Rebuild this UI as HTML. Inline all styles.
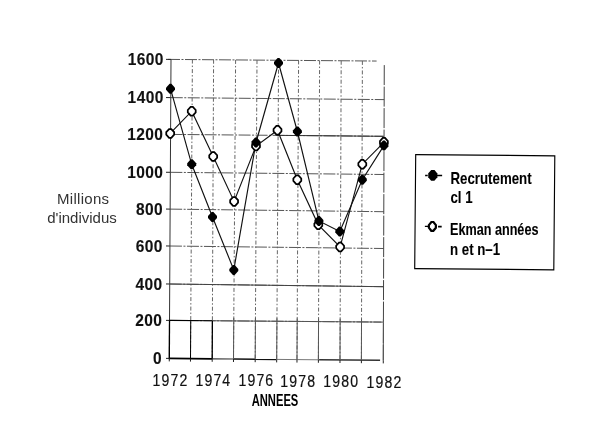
<!DOCTYPE html>
<html><head><meta charset="utf-8"><style>
html,body{margin:0;padding:0;background:#fff;width:600px;height:425px;overflow:hidden}
svg{display:block;filter:grayscale(1)}
.gr{stroke:#555;stroke-width:1;stroke-dasharray:12 1.5 2 1.5}
.gv{stroke:#666;stroke-width:1;stroke-dasharray:4 2 1.5 2}
text{font-family:"Liberation Sans",sans-serif}
.ax{font-size:16px;font-weight:normal;fill:#111;stroke:#111;stroke-width:0.2px;letter-spacing:1.3px}
.ay{font-weight:bold;stroke-width:0.1px;letter-spacing:0.4px}
.an{font-size:16px;font-weight:bold;fill:#000}
.ml{font-size:15px;fill:#333}
.lg{font-size:16px;font-weight:bold;fill:#000;stroke:#000;stroke-width:0.1px}
</style></head><body>
<svg width="600" height="425" viewBox="0 0 600 425">
<rect width="600" height="425" fill="#fff"/>
<line x1="169.30" y1="358.40" x2="212.10" y2="358.80" stroke="#000" stroke-width="1.8"/>
<line x1="212.10" y1="358.80" x2="233.50" y2="359.00" stroke="#333" stroke-width="1.2"/>
<line x1="233.50" y1="359.00" x2="276.30" y2="359.40" stroke="#111" stroke-width="1.6"/>
<line x1="276.30" y1="359.40" x2="319.10" y2="359.80" stroke="#777" stroke-width="1"/>
<line x1="319.10" y1="359.80" x2="380.09" y2="360.37" stroke="#333" stroke-width="1.5"/>
<line x1="166.00" y1="358.37" x2="169.30" y2="358.40" stroke="#222" stroke-width="1"/>
<line x1="169.52" y1="320.40" x2="383.42" y2="322.10" class="gr"/>
<line x1="166.00" y1="320.37" x2="169.52" y2="320.40" stroke="#222" stroke-width="1"/>
<line x1="169.72" y1="284.01" x2="383.54" y2="286.70" class="gr"/>
<line x1="166.00" y1="283.96" x2="169.72" y2="284.01" stroke="#222" stroke-width="1"/>
<line x1="169.94" y1="246.01" x2="383.67" y2="248.50" class="gr"/>
<line x1="166.00" y1="245.96" x2="169.94" y2="246.01" stroke="#222" stroke-width="1"/>
<line x1="170.15" y1="209.11" x2="383.79" y2="211.71" class="gr"/>
<line x1="166.00" y1="209.06" x2="170.15" y2="209.11" stroke="#222" stroke-width="1"/>
<line x1="170.36" y1="172.31" x2="383.92" y2="174.51" class="gr"/>
<line x1="166.00" y1="172.27" x2="170.36" y2="172.31" stroke="#222" stroke-width="1"/>
<line x1="170.57" y1="134.41" x2="384.04" y2="136.31" class="gr"/>
<line x1="166.00" y1="134.37" x2="170.57" y2="134.41" stroke="#222" stroke-width="1"/>
<line x1="170.78" y1="97.61" x2="384.17" y2="99.61" class="gr"/>
<line x1="166.00" y1="97.57" x2="170.78" y2="97.61" stroke="#222" stroke-width="1"/>
<line x1="168.00" y1="59.39" x2="376.60" y2="61.05" class="gr"/>
<line x1="166.00" y1="59.37" x2="171.00" y2="59.41" stroke="#222" stroke-width="1"/>
<line x1="171.00" y1="59.40" x2="169.29" y2="359.50" stroke="#333" stroke-width="1"/>
<line x1="169.30" y1="358.40" x2="169.28" y2="361.40" stroke="#222" stroke-width="1"/>
<line x1="192.40" y1="59.57" x2="190.50" y2="358.60" class="gv"/>
<line x1="190.50" y1="358.60" x2="190.48" y2="361.60" stroke="#222" stroke-width="1"/>
<line x1="213.60" y1="59.74" x2="212.20" y2="358.80" class="gv"/>
<line x1="212.20" y1="358.80" x2="212.18" y2="361.80" stroke="#222" stroke-width="1"/>
<line x1="235.60" y1="59.91" x2="233.50" y2="359.00" class="gv"/>
<line x1="233.50" y1="359.00" x2="233.47" y2="362.00" stroke="#222" stroke-width="1"/>
<line x1="257.00" y1="60.08" x2="255.20" y2="359.20" class="gv"/>
<line x1="255.20" y1="359.20" x2="255.18" y2="362.20" stroke="#222" stroke-width="1"/>
<line x1="278.59" y1="60.25" x2="276.69" y2="359.40" class="gv"/>
<line x1="276.69" y1="359.40" x2="276.67" y2="362.40" stroke="#222" stroke-width="1"/>
<line x1="298.59" y1="60.41" x2="296.99" y2="359.59" class="gv"/>
<line x1="296.99" y1="359.59" x2="296.98" y2="362.59" stroke="#222" stroke-width="1"/>
<line x1="319.60" y1="60.58" x2="318.39" y2="359.79" class="gv"/>
<line x1="318.39" y1="359.79" x2="318.38" y2="362.79" stroke="#222" stroke-width="1"/>
<line x1="341.19" y1="60.76" x2="339.99" y2="360.00" class="gv"/>
<line x1="339.99" y1="360.00" x2="339.98" y2="363.00" stroke="#222" stroke-width="1"/>
<line x1="362.39" y1="60.93" x2="361.39" y2="360.20" class="gv"/>
<line x1="361.39" y1="360.20" x2="361.38" y2="363.20" stroke="#222" stroke-width="1"/>
<line x1="384.28" y1="65.10" x2="383.29" y2="360.40" stroke="#444" stroke-width="1" stroke-dasharray="20 1.5"/>
<line x1="383.29" y1="360.40" x2="383.28" y2="363.40" stroke="#222" stroke-width="1"/>
<line x1="276.70" y1="135.35" x2="383.30" y2="136.30" stroke="#333" stroke-width="1"/>
<line x1="169.30" y1="284.00" x2="383.30" y2="286.70" stroke="#444" stroke-width="1"/>
<line x1="212.20" y1="320.74" x2="381.30" y2="322.08" stroke="#555" stroke-width="1"/>
<line x1="233.78" y1="317.91" x2="233.50" y2="359.00" stroke="#555" stroke-width="1"/>
<line x1="255.44" y1="318.08" x2="255.20" y2="359.20" stroke="#555" stroke-width="1"/>
<line x1="276.96" y1="318.25" x2="276.69" y2="359.40" stroke="#555" stroke-width="1"/>
<line x1="297.21" y1="318.41" x2="296.99" y2="359.59" stroke="#555" stroke-width="1"/>
<line x1="318.56" y1="318.58" x2="318.39" y2="359.79" stroke="#555" stroke-width="1"/>
<line x1="340.16" y1="318.76" x2="339.99" y2="360.00" stroke="#555" stroke-width="1"/>
<line x1="361.53" y1="318.93" x2="361.39" y2="360.20" stroke="#555" stroke-width="1"/>
<line x1="383.43" y1="319.10" x2="383.29" y2="360.40" stroke="#555" stroke-width="1"/>
<line x1="169.30" y1="320.40" x2="212.20" y2="320.74" stroke="#000" stroke-width="1.1"/>
<line x1="169.52" y1="320.40" x2="169.30" y2="358.40" stroke="#000" stroke-width="1.3"/>
<line x1="190.74" y1="320.57" x2="190.50" y2="358.60" stroke="#000" stroke-width="1.0"/>
<line x1="212.38" y1="320.74" x2="212.20" y2="358.80" stroke="#000" stroke-width="1.3"/>
<polyline points="170.20,133.40 191.75,111.20 213.20,156.50 234.10,201.40 256.00,146.00 277.50,130.20 297.30,179.70 318.30,224.80 340.10,247.00 362.30,164.20 383.90,142.30" fill="none" stroke="#111" stroke-width="1.15"/>
<polyline points="170.50,88.70 191.70,164.30 212.50,217.00 233.80,269.90 256.00,142.50 278.50,63.00 297.40,131.50 318.90,220.90 339.80,231.50 362.30,179.80 383.90,145.60" fill="none" stroke="#111" stroke-width="1.15"/>
<polygon points="169.09,129.05 171.31,129.05 174.15,132.18 174.15,134.62 171.31,137.75 169.09,137.75 166.25,134.62 166.25,132.18" fill="#fff" stroke="#000" stroke-width="1.75"/>
<polygon points="190.64,106.85 192.86,106.85 195.70,109.98 195.70,112.42 192.86,115.55 190.64,115.55 187.80,112.42 187.80,109.98" fill="#fff" stroke="#000" stroke-width="1.75"/>
<polygon points="212.09,152.15 214.31,152.15 217.15,155.28 217.15,157.72 214.31,160.85 212.09,160.85 209.25,157.72 209.25,155.28" fill="#fff" stroke="#000" stroke-width="1.75"/>
<polygon points="232.99,197.05 235.21,197.05 238.05,200.18 238.05,202.62 235.21,205.75 232.99,205.75 230.15,202.62 230.15,200.18" fill="#fff" stroke="#000" stroke-width="1.75"/>
<polygon points="254.89,141.65 257.11,141.65 259.95,144.78 259.95,147.22 257.11,150.35 254.89,150.35 252.05,147.22 252.05,144.78" fill="#fff" stroke="#000" stroke-width="1.75"/>
<polygon points="276.39,125.85 278.61,125.85 281.45,128.98 281.45,131.42 278.61,134.55 276.39,134.55 273.55,131.42 273.55,128.98" fill="#fff" stroke="#000" stroke-width="1.75"/>
<polygon points="296.19,175.35 298.41,175.35 301.25,178.48 301.25,180.92 298.41,184.05 296.19,184.05 293.35,180.92 293.35,178.48" fill="#fff" stroke="#000" stroke-width="1.75"/>
<polygon points="317.19,220.45 319.41,220.45 322.25,223.58 322.25,226.02 319.41,229.15 317.19,229.15 314.35,226.02 314.35,223.58" fill="#fff" stroke="#000" stroke-width="1.75"/>
<polygon points="338.99,242.65 341.21,242.65 344.05,245.78 344.05,248.22 341.21,251.35 338.99,251.35 336.15,248.22 336.15,245.78" fill="#fff" stroke="#000" stroke-width="1.75"/>
<polygon points="361.19,159.85 363.41,159.85 366.25,162.98 366.25,165.42 363.41,168.55 361.19,168.55 358.35,165.42 358.35,162.98" fill="#fff" stroke="#000" stroke-width="1.75"/>
<polygon points="382.79,137.95 385.01,137.95 387.85,141.08 387.85,143.52 385.01,146.65 382.79,146.65 379.95,143.52 379.95,141.08" fill="#fff" stroke="#000" stroke-width="1.75"/>
<polygon points="169.60,83.70 171.40,83.70 175.00,87.70 175.00,89.70 171.40,93.70 169.60,93.70 166.00,89.70 166.00,87.70" fill="#000"/>
<polygon points="190.80,159.30 192.60,159.30 196.20,163.30 196.20,165.30 192.60,169.30 190.80,169.30 187.20,165.30 187.20,163.30" fill="#000"/>
<polygon points="211.60,212.00 213.40,212.00 217.00,216.00 217.00,218.00 213.40,222.00 211.60,222.00 208.00,218.00 208.00,216.00" fill="#000"/>
<polygon points="232.90,264.90 234.70,264.90 238.30,268.90 238.30,270.90 234.70,274.90 232.90,274.90 229.30,270.90 229.30,268.90" fill="#000"/>
<polygon points="255.10,137.50 256.90,137.50 260.50,141.50 260.50,143.50 256.90,147.50 255.10,147.50 251.50,143.50 251.50,141.50" fill="#000"/>
<polygon points="277.60,58.00 279.40,58.00 283.00,62.00 283.00,64.00 279.40,68.00 277.60,68.00 274.00,64.00 274.00,62.00" fill="#000"/>
<polygon points="296.50,126.50 298.30,126.50 301.90,130.50 301.90,132.50 298.30,136.50 296.50,136.50 292.90,132.50 292.90,130.50" fill="#000"/>
<polygon points="318.00,215.90 319.80,215.90 323.40,219.90 323.40,221.90 319.80,225.90 318.00,225.90 314.40,221.90 314.40,219.90" fill="#000"/>
<polygon points="338.90,226.50 340.70,226.50 344.30,230.50 344.30,232.50 340.70,236.50 338.90,236.50 335.30,232.50 335.30,230.50" fill="#000"/>
<polygon points="361.40,174.80 363.20,174.80 366.80,178.80 366.80,180.80 363.20,184.80 361.40,184.80 357.80,180.80 357.80,178.80" fill="#000"/>
<polygon points="383.00,140.60 384.80,140.60 388.40,144.60 388.40,146.60 384.80,150.60 383.00,150.60 379.40,146.60 379.40,144.60" fill="#000"/>
<g transform="rotate(0.5 484.8 212.2)"><rect x="415.2" y="155.2" width="139.1" height="114.0" fill="none" stroke="#000" stroke-width="1.15"/>
<line x1="424.8" y1="175.9" x2="427.4" y2="175.9" stroke="#000" stroke-width="1.5"/>
<line x1="436" y1="175.9" x2="441.8" y2="175.9" stroke="#000" stroke-width="1.4"/>
<polygon points="430.86,170.35 434.14,170.35 437.05,173.84 437.05,177.76 434.14,181.25 430.86,181.25 427.95,177.76 427.95,173.84" fill="#000"/>
<line x1="425" y1="226.9" x2="429" y2="226.9" stroke="#000" stroke-width="1.4"/>
<line x1="438.2" y1="227.1" x2="441.8" y2="227.1" stroke="#000" stroke-width="1.7"/>
<polygon points="431.45,222.45 433.55,222.45 436.00,225.53 436.00,228.17 433.55,231.25 431.45,231.25 429.00,228.17 429.00,225.53" fill="#fff" stroke="#000" stroke-width="2.2"/></g>
<text x="162.1" y="364.0" class="ax ay" text-anchor="end" transform="translate(162.10 0) scale(0.97 1) translate(-162.10 0)">0</text><text x="162.3" y="326.0" class="ax ay" text-anchor="end" transform="translate(162.33 0) scale(0.97 1) translate(-162.33 0)">200</text><text x="162.5" y="289.6" class="ax ay" text-anchor="end" transform="translate(162.55 0) scale(0.97 1) translate(-162.55 0)">400</text><text x="162.8" y="251.6" class="ax ay" text-anchor="end" transform="translate(162.77 0) scale(0.97 1) translate(-162.77 0)">600</text><text x="163.0" y="214.7" class="ax ay" text-anchor="end" transform="translate(163.00 0) scale(0.97 1) translate(-163.00 0)">800</text><text x="163.2" y="177.9" class="ax ay" text-anchor="end" transform="translate(163.22 0) scale(0.97 1) translate(-163.22 0)">1000</text><text x="163.4" y="140.0" class="ax ay" text-anchor="end" transform="translate(163.44 0) scale(0.97 1) translate(-163.44 0)">1200</text><text x="163.7" y="103.2" class="ax ay" text-anchor="end" transform="translate(163.66 0) scale(0.97 1) translate(-163.66 0)">1400</text><text x="163.9" y="65.0" class="ax ay" text-anchor="end" transform="translate(163.89 0) scale(0.97 1) translate(-163.89 0)">1600</text><text x="170.5" y="385.8" class="ax" text-anchor="middle" transform="translate(170.50 0) scale(0.88 1) translate(-170.50 0)">1972</text><text x="213.4" y="386.2" class="ax" text-anchor="middle" transform="translate(213.40 0) scale(0.88 1) translate(-213.40 0)">1974</text><text x="256.4" y="386.5" class="ax" text-anchor="middle" transform="translate(256.40 0) scale(0.88 1) translate(-256.40 0)">1976</text><text x="298.2" y="386.9" class="ax" text-anchor="middle" transform="translate(298.20 0) scale(0.88 1) translate(-298.20 0)">1978</text><text x="341.2" y="387.3" class="ax" text-anchor="middle" transform="translate(341.20 0) scale(0.88 1) translate(-341.20 0)">1980</text><text x="384.5" y="387.6" class="ax" text-anchor="middle" transform="translate(384.50 0) scale(0.88 1) translate(-384.50 0)">1982</text><text x="275" y="405.7" class="an" text-anchor="middle" transform="translate(275.00 0) scale(0.7 1) translate(-275.00 0)">ANNEES</text><text x="83.2" y="203.7" class="ml" text-anchor="middle" style="letter-spacing:0.3px">Millions</text><text x="82" y="223" class="ml" text-anchor="middle">d'individus</text><text x="450.5" y="184.3" class="lg" transform="translate(450.50 0) scale(0.83 1) translate(-450.50 0)">Recrutement</text><text x="450.5" y="203.4" class="lg" transform="translate(450.50 0) scale(0.83 1) translate(-450.50 0)">cl 1</text><text x="450" y="235.1" class="lg" transform="translate(450.00 0) scale(0.79 1) translate(-450.00 0)">Ekman années</text><text x="450" y="254.6" class="lg" transform="translate(450.00 0) scale(0.83 1) translate(-450.00 0)">n et n–1</text>
</svg>
</body></html>
